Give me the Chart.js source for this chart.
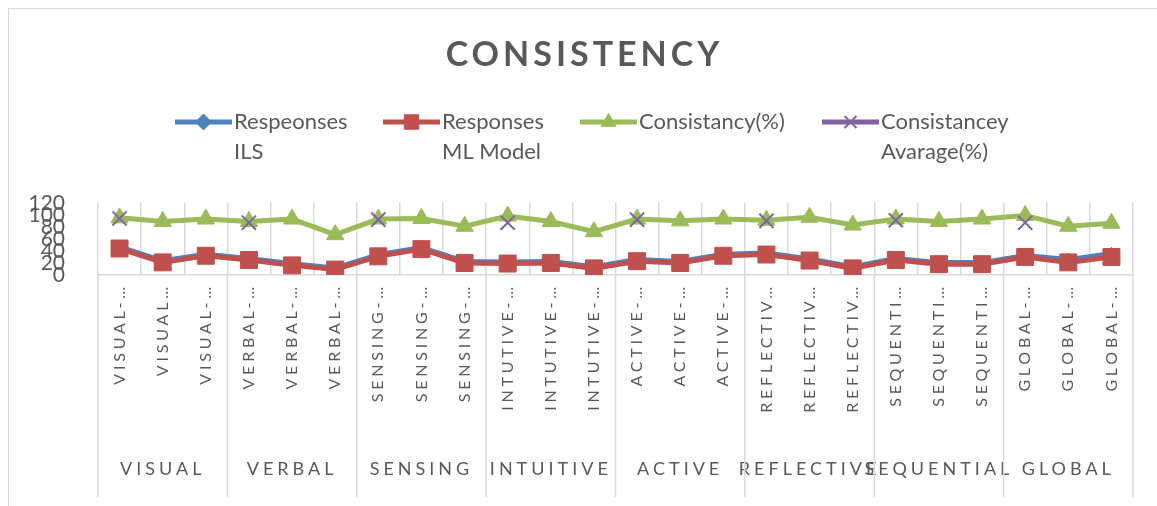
<!DOCTYPE html>
<html>
<head>
<meta charset="utf-8">
<script src="https://cdn.jsdelivr.net/npm/chart.js@4.4.0/dist/chart.umd.min.js"></script>
<style>
  html, body { margin: 0; padding: 0; background: #fff; }
  #wrap { position: relative; width: 1157px; height: 506px; overflow: hidden; }
  #frame { position: absolute; left: 8px; top: 8px; width: 1200px; height: 600px; border: 1px solid #d9d9d9; }
  #chart { position: absolute; left: 0; top: 0; }
</style>
</head>
<body>
<div id="wrap">
  <div id="frame"></div>
  <canvas id="chart" width="1157" height="506"></canvas>
</div>
<script>
// categories (as shown, truncated by the original chart)
const categories = [
  "VISUAL-…", "VISUAL…", "VISUAL-…",
  "VERBAL-…", "VERBAL-…", "VERBAL-…",
  "SENSING-…", "SENSING-…", "SENSING-…",
  "INTUTIVE-…", "INTUTIVE-…", "INTUTIVE-…",
  "ACTIVE-…", "ACTIVE-…", "ACTIVE-…",
  "REFLECTIV…", "REFLECTIV…", "REFLECTIV…",
  "SEQUENTI…", "SEQUENTI…", "SEQUENTI…",
  "GLOBAL-…", "GLOBAL-…", "GLOBAL-…"
];
const groups = ["VISUAL", "VERBAL", "SENSING", "INTUITIVE", "ACTIVE", "REFLECTIVE", "SEQUENTIAL", "GLOBAL"];

const seriesNames = [
  ["Respeonses", "ILS"],
  ["Responses", "ML Model"],
  ["Consistancy(%)"],
  ["Consistancey", "Avarage(%)"]
];

const responsesILS = [47, 24, 35, 28, 19, 12, 34, 46, 23, 22, 23, 14, 26, 23, 35, 37, 27, 14, 28, 21, 21, 33, 26, 36];
const responsesML = [44, 21, 32, 25, 16, 9, 31, 43, 20, 19, 20, 11, 23, 20, 32, 34, 24, 11, 25, 18, 18, 30, 21, 30];
const consistency = [95, 89, 93, 89, 93, 67, 93, 94, 81, 98, 89, 72, 93, 90, 93, 91, 96, 83, 93, 89, 93, 99, 81, 86];
const consistencyAvg = [94, null, null, 87, null, null, 92, null, null, 87, null, null, 92, null, null, 90, null, null, 91, null, null, 87, null, null];

const yTicks = { min: 0, max: 120, step: 20 };

const textColor = "#595959";
const gridColor = "#d9d9d9";

// group label sits under the middle category of each group
const groupTicks = categories.map((c, i) => (i % 3 === 1 ? groups[(i - 1) / 3] : ""));

// apply canvas letter spacing (and an optional shift) to a box's draw method
function wrapSpacing(target, method, spacing, shiftX) {
  if (!target || target["_spaced_" + method]) return;
  const orig = target[method];
  target[method] = function (...args) {
    this.ctx.save();
    this.ctx.letterSpacing = spacing;
    if (shiftX) this.ctx.translate(shiftX, 0);
    orig.apply(this, args);
    this.ctx.restore();
  };
  target["_spaced_" + method] = true;
}

const spacingPlugin = {
  id: "spacing",
  beforeDraw(chart) {
    wrapSpacing(chart.titleBlock, "draw", "4px", 18);
    wrapSpacing(chart.scales.x, "drawLabels", "3.8px");
    wrapSpacing(chart.scales.x2, "drawLabels", "4px");
  }
};

// vertical separators between the groups, through the label area
const groupLinesPlugin = {
  id: "groupLines",
  afterDraw(chart) {
    const x = chart.scales.x;
    const x2 = chart.scales.x2;
    const ctx = chart.ctx;
    ctx.save();
    ctx.strokeStyle = gridColor;
    ctx.lineWidth = 1.5;
    for (let i = 0; i <= categories.length; i += 3) {
      const px = x.getPixelForValue(i - 0.5);
      ctx.beginPath();
      ctx.moveTo(px, chart.chartArea.bottom);
      ctx.lineTo(px, x2.bottom);
      ctx.stroke();
    }
    ctx.restore();
  }
};

// legend with two-line labels, like the original
const legendX = [175, 383, 580, 822];
const legendPlugin = {
  id: "seriesLegend",
  afterDraw(chart) {
    const ctx = chart.ctx;
    chart.data.datasets.forEach((ds, i) => {
      const x0 = legendX[i];
      const y = 122;
      ctx.save();
      ctx.strokeStyle = ds.borderColor;
      ctx.lineWidth = 5;
      ctx.beginPath();
      ctx.moveTo(x0, y);
      ctx.lineTo(x0 + 57, y);
      ctx.stroke();
      ctx.fillStyle = ds.pointBackgroundColor;
      ctx.strokeStyle = ds.pointBorderColor;
      ctx.lineWidth = ds.pointBorderWidth;
      Chart.helpers.drawPoint(ctx, {
        pointStyle: ds.pointStyle,
        radius: ds.pointStyle === "rectRot" ? 8 : ds.pointRadius * 0.85,
        borderWidth: ds.pointBorderWidth,
        rotation: 0
      }, x0 + 28.5, y);
      ctx.fillStyle = textColor;
      ctx.font = "22px Lato";
      ctx.textBaseline = "middle";
      ctx.textAlign = "left";
      seriesNames[i].forEach((line, k) => ctx.fillText(line, x0 + 59, y + k * 30));
      ctx.restore();
    });
  }
};

new Chart(document.getElementById("chart"), {
  type: "line",
  data: {
    labels: categories,
    datasets: [
      {
        label: seriesNames[0].join(" "),
        data: responsesILS,
        borderColor: "#4f81bd",
        borderWidth: 4.5,
        pointStyle: "rectRot",
        pointRadius: 6,
        pointBackgroundColor: "#4f81bd",
        pointBorderColor: "#4f81bd",
        pointBorderWidth: 1,
        order: 3
      },
      {
        label: seriesNames[1].join(" "),
        data: responsesML,
        borderColor: "#c0504d",
        borderWidth: 5,
        pointStyle: "rect",
        pointRadius: 12,
        pointBackgroundColor: "#c0504d",
        pointBorderColor: "#c0504d",
        pointBorderWidth: 1,
        order: 2
      },
      {
        label: seriesNames[2].join(" "),
        data: consistency,
        borderColor: "#9bbb59",
        borderWidth: 5,
        pointStyle: "triangle",
        pointRadius: 10,
        pointBackgroundColor: "#9bbb59",
        pointBorderColor: "#9bbb59",
        pointBorderWidth: 1,
        order: 1
      },
      {
        label: seriesNames[3].join(" "),
        data: consistencyAvg,
        borderColor: "#8064a2",
        borderWidth: 5,
        showLine: false,
        pointStyle: "crossRot",
        pointRadius: 10,
        pointBackgroundColor: "#8064a2",
        pointBorderColor: "#8064a2",
        pointBorderWidth: 2,
        order: 0
      }
    ]
  },
  options: {
    responsive: false,
    animation: false,
    layout: { padding: { left: 0, right: 24, top: 0, bottom: 9 } },
    plugins: {
      legend: { display: false },
      tooltip: { enabled: false },
      title: {
        display: true,
        text: "CONSISTENCY",
        color: textColor,
        font: { family: "Lato", size: 34, weight: "bold", lineHeight: 1.2 },
        padding: { top: 35, bottom: 127 }
      }
    },
    scales: {
      y: {
        min: yTicks.min,
        max: yTicks.max,
        grid: { display: false },
        border: { display: false },
        ticks: {
          stepSize: yTicks.step,
          autoSkip: false,
          padding: 25,
          color: textColor,
          font: { family: "Lato", size: 21 }
        },
        afterFit: (s) => { s.width = 98; }
      },
      x: {
        offset: true,
        weight: 0,
        grid: { offset: true, color: gridColor, lineWidth: 1.5, drawTicks: false },
        border: { color: gridColor, width: 1.5 },
        ticks: {
          autoSkip: false,
          minRotation: 90,
          maxRotation: 90,
          padding: 8,
          color: textColor,
          font: { family: "Lato", size: 16 }
        },
        afterFit: (s) => { s.height = 140; }
      },
      x2: {
        type: "category",
        labels: groupTicks,
        position: "bottom",
        offset: true,
        weight: 1,
        grid: { display: false },
        border: { display: false },
        ticks: {
          autoSkip: false,
          minRotation: 0,
          maxRotation: 0,
          padding: 35,
          color: textColor,
          font: { family: "Lato", size: 18 }
        },
        afterFit: (s) => { s.height = 82; }
      }
    }
  },
  plugins: [spacingPlugin, groupLinesPlugin, legendPlugin]
});
</script>
</body>
</html>
